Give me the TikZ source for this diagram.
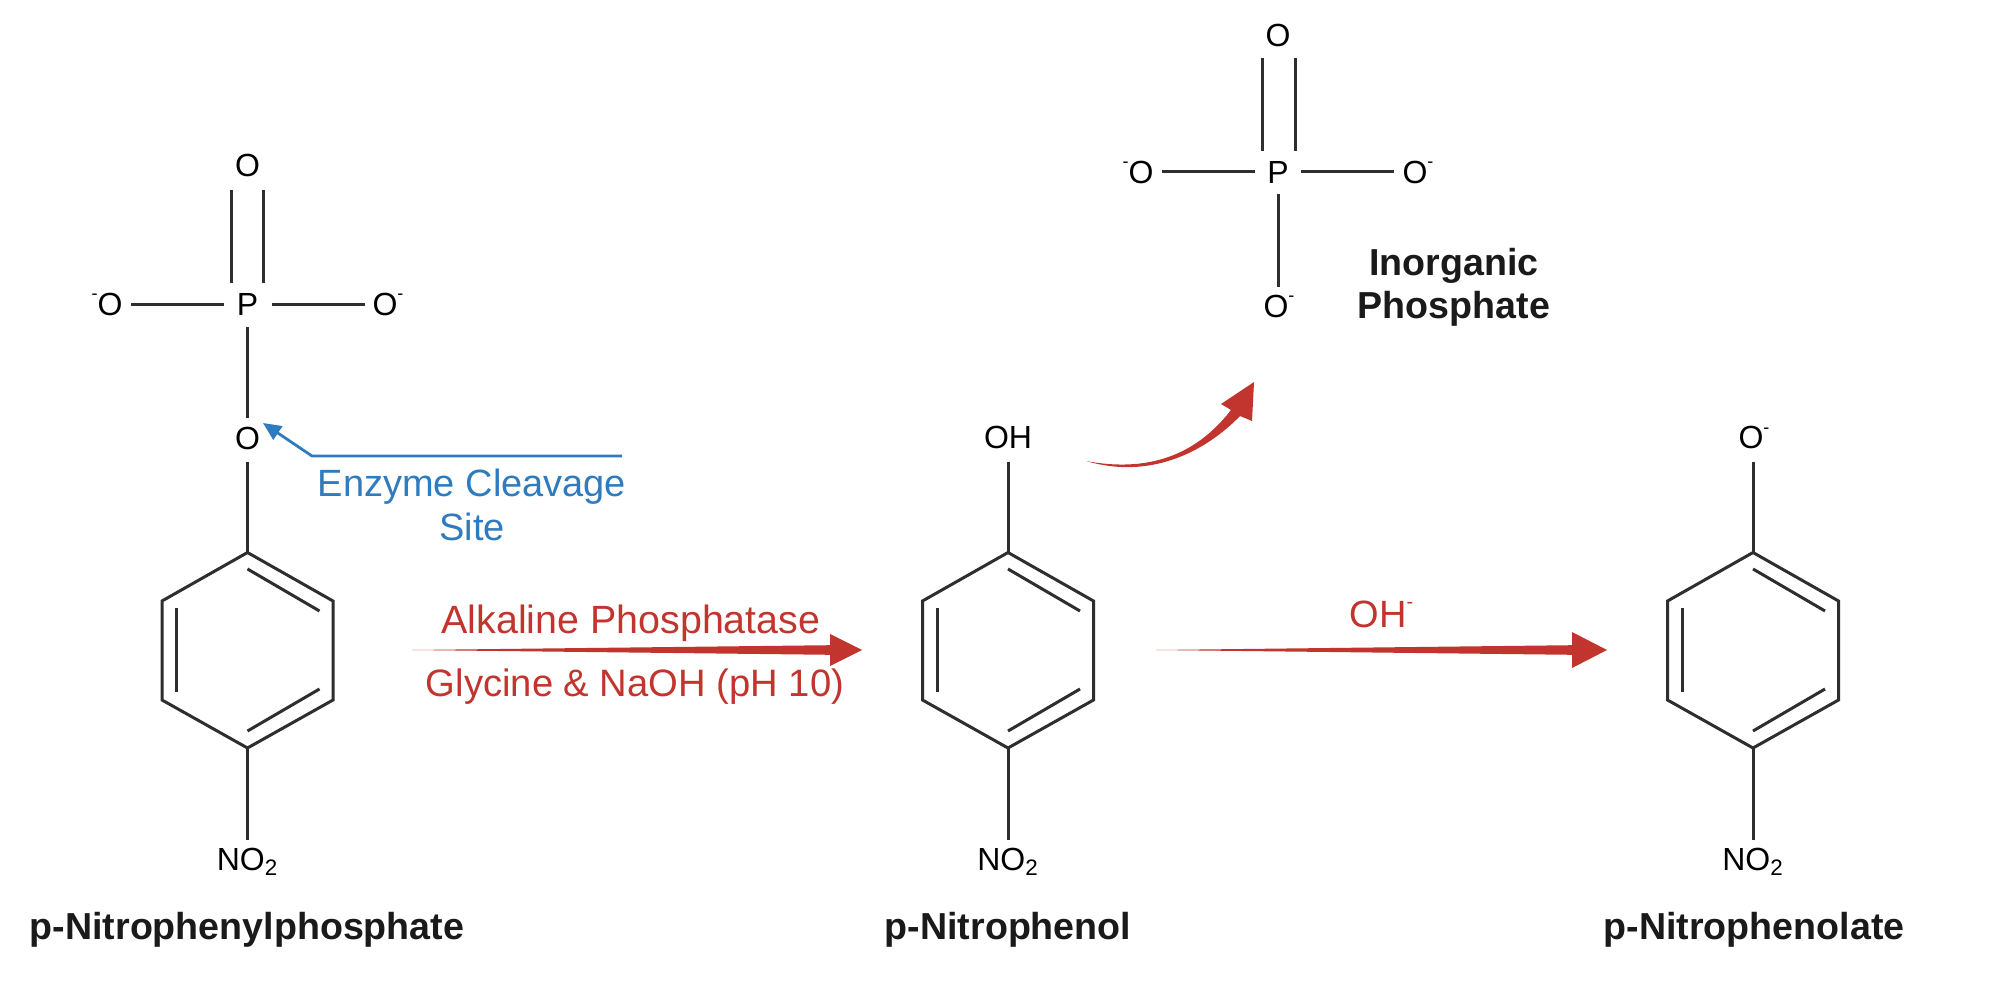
\documentclass[tikz,border=0pt]{standalone}
\usepackage{fontspec}
\setmainfont{Liberation Sans}
\usetikzlibrary{arrows.meta,calc}
\definecolor{arrowred}{HTML}{C1352E}
\definecolor{cleaveblue}{HTML}{2F7BBF}
\definecolor{bondgrey}{HTML}{2E2E2E}
\definecolor{labelink}{HTML}{1A1A1A}
\newcommand{\negR}{\rlap{\raisebox{7.8pt}{\fontsize{9}{9}\selectfont -}}}
\newcommand{\negL}{\llap{\raisebox{7.8pt}{\fontsize{9}{9}\selectfont -}}}
\tikzset{
  x=0.5pt,y=-0.5pt,
  atom/.style={inner sep=0pt,text height=11.4pt,text depth=0pt,text=black,font=\fontsize{16}{18}\selectfont},
  bond/.style={draw=bondgrey,line width=1.5pt},
  ringline/.style={draw=bondgrey,line width=1.5pt,line join=miter},
  molname/.style={inner sep=0pt,anchor=base,text=labelink,font=\fontsize{18.8}{21.5}\selectfont\bfseries},
  redtext/.style={inner sep=0pt,anchor=base,text=arrowred,font=\fontsize{19.7}{22}\selectfont},
  bluetext/.style={inner sep=0pt,align=center,text=cleaveblue,font=\fontsize{19}{22}\selectfont},
  taper/.style={fill=arrowred,draw=none},
}
% ring: #1 name prefix, #2 centre x
\newcommand{\molring}[2]{%
  \coordinate (#1t) at (#2,552.5);
  \coordinate (#1ur) at (#2+85.5,601);
  \coordinate (#1lr) at (#2+85.5,700);
  \coordinate (#1b) at (#2,748);
  \coordinate (#1ll) at (#2-85.5,700);
  \coordinate (#1ul) at (#2-85.5,601);
  \draw[ringline] (#1t) -- (#1ur) -- (#1lr) -- (#1b) -- (#1ll) -- (#1ul) -- cycle;
  \draw[bond] (#2-71,608) -- (#2-71,692);
  \draw[bond] (#2,569) -- (#2+72,611);
  \draw[bond] (#2+72,689) -- (#2,731);
}
\begin{document}
\begin{tikzpicture}
\useasboundingbox (0,0) rectangle (2000,1000);
\fill[white] (0,0) rectangle (2000,1000);

% molecule 1
\node[atom] (P1) at (247.5,304) {P};
\node[atom] (O1t) at (247.5,165) {O};
\node[atom] (O1l) at (110,304) {\negL O};
\node[atom] (O1r) at (385,304) {O\negR};
\node[atom] (O1b) at (247.5,438) {O};
\node[atom] (N1) at (247.5,859) {NO\textsubscript{2}};
\molring{a}{247.5}
\draw[bond,shorten >=12.5pt,shorten <=10.5pt] ([xshift=-8pt]P1.center) -- ([xshift=-8pt]O1t.center);
\draw[bond,shorten >=12.5pt,shorten <=10.5pt] ([xshift=8pt]P1.center) -- ([xshift=8pt]O1t.center);
\draw[bond,shorten >=10.5pt,shorten <=12pt] (P1.center) -- (O1l.center);
\draw[bond,shorten >=10pt,shorten <=12pt] (P1.center) -- (O1r.center);
\draw[bond,shorten >=10pt,shorten <=11.5pt] (P1.center) -- (O1b.center);
\draw[bond,shorten <=12pt] (O1b.center) -- (at);
\draw[bond,shorten >=9.5pt] (ab) -- (N1.center);
\node[molname] (L1) at (247,939) {p-Nitrophenylphosphate};

% cleavage pointer
\coordinate (bend) at (312,456);
\coordinate (bstart) at (622,456);
\coordinate (btip) at (263,423);
\draw[draw=cleaveblue,line width=1.4pt,line join=miter,-{Triangle[length=9pt,width=8pt]}] (bstart) -- (bend) -- (btip);
\node[bluetext] (site) at (472,505) {Enzyme Cleavage\\Site};

% reaction arrow 1
\coordinate (r1s) at (412,650);
\coordinate (r1e) at (830,650);
\coordinate (r1t) at (862,650);
\fill[taper] (r1s) -- ([yshift=2.4pt]r1e) -- ([yshift=8pt]r1e) -- (r1t) -- ([yshift=-8pt]r1e) -- ([yshift=-2.4pt]r1e) -- cycle;
\node[redtext] (alk) at (631,633) {Alkaline Phosphatase};
\node[redtext,font=\fontsize{19.1}{22}\selectfont] (gly) at (635,696) {Glycine \& NaOH (pH 10)};

% molecule 2
\node[atom] (O2) at (1008,437.5) {OH};
\node[atom] (N2) at (1008,859) {NO\textsubscript{2}};
\molring{b}{1008}
\draw[bond,shorten <=12pt] (O2.center) -- (bt);
\draw[bond,shorten >=9.5pt] (bb) -- (N2.center);
\node[molname] (L2) at (1008,939) {p-Nitrophenol};

% reaction arrow 2
\coordinate (r2s) at (1156,650);
\coordinate (r2e) at (1572,650);
\coordinate (r2t) at (1607,650);
\fill[taper] (r2s) -- ([yshift=2.4pt]r2e) -- ([yshift=9pt]r2e) -- (r2t) -- ([yshift=-9pt]r2e) -- ([yshift=-2.4pt]r2e) -- cycle;
\node[redtext,font=\fontsize{19}{22}\selectfont] (oh) at (1378,627) {OH\rlap{\raisebox{9.2pt}{\fontsize{10}{10}\selectfont -}}};

% molecule 3
\node[atom] (O3) at (1751,437.5) {O\negR};
\node[atom] (N3) at (1753,859) {NO\textsubscript{2}};
\molring{c}{1753}
\draw[bond,shorten <=12pt] (ct |- O3.center) -- (ct);
\draw[bond,shorten >=9.5pt] (cb) -- (N3.center);
\node[molname] (L3) at (1754,939) {p-Nitrophenolate};

% inorganic phosphate
\node[atom] (P4) at (1278,172) {P};
\node[atom] (O4t) at (1278,35) {O};
\node[atom] (O4l) at (1141,172) {\negL O};
\node[atom] (O4r) at (1415,172) {O\negR};
\node[atom] (O4b) at (1276,306) {O\negR};
\draw[bond,shorten >=11.5pt,shorten <=10.5pt] ([xshift=-8pt]P4.center) -- ([xshift=-8pt]O4t.center);
\draw[bond,shorten >=11.5pt,shorten <=10.5pt] ([xshift=8.5pt]P4.center) -- ([xshift=8.5pt]O4t.center);
\draw[bond,shorten >=10.5pt,shorten <=11.5pt] (P4.center) -- (O4l.center);
\draw[bond,shorten >=10.5pt,shorten <=11.5pt] (P4.center) -- (O4r.center);
\draw[bond,shorten >=9.5pt,shorten <=11pt] (P4.center) -- (P4 |- O4b.center);
\node[molname] (L4a) at (1454,275) {Inorganic};
\node[molname] (L4b) at (1454,318) {Phosphate};

% curved arrow
\coordinate (c0) at (1086,461);
\coordinate (ctip) at (1254,382);
\fill[taper] (c0) .. controls (1150,480) and (1205,452) .. (1240,416)
  -- (1252,421) -- (ctip) -- (1221,404) -- (1231,410)
  .. controls (1200,450) and (1155,474) .. (c0) -- cycle;
\end{tikzpicture}
\end{document}
